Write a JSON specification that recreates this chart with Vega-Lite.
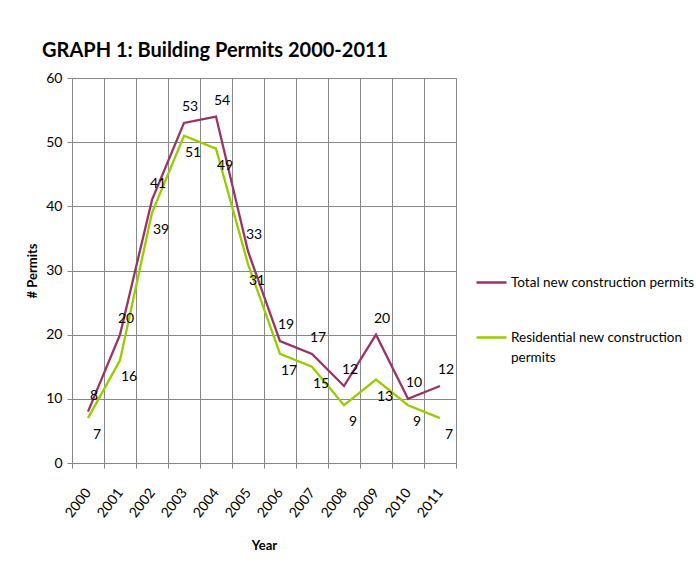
{
  "$schema": "https://vega.github.io/schema/vega-lite/v6.json",
  "autosize": "none",
  "width": 384,
  "height": 385,
  "padding": {"left": 72, "top": 78, "right": 240, "bottom": 108},
  "background": "white",
  "title": {
    "text": "GRAPH 1: Building Permits 2000-2011",
    "anchor": "start",
    "frame": "group",
    "dx": -30,
    "dy": 27,
    "offset": 21,
    "baseline": "alphabetic",
    "font": "Lato",
    "fontSize": 20,
    "fontWeight": "bold",
    "color": "#000000"
  },
  "config": {
    "font": "Lato",
    "view": {"stroke": "#888888", "strokeWidth": 1},
    "style": {"guide-label": {"lineHeight": 20}},
    "axis": {
      "domainColor": "#888888",
      "tickColor": "#888888",
      "gridColor": "#888888",
      "gridOpacity": 1,
      "gridWidth": 1,
      "labelFontSize": 14,
      "labelColor": "#000000",
      "titleColor": "#000000",
      "titleFontWeight": "bold",
      "titleFontSize": 13,
      "labelFont": "Lato",
      "titleFont": "Lato"
    },
    "legend": {
      "labelFont": "Lato",
      "labelFontSize": 13.5,
      "labelColor": "#000000"
    }
  },
  "data": {
    "values": [
      {"year": "2000", "series": "Total new construction permits", "permits": 8},
      {"year": "2001", "series": "Total new construction permits", "permits": 20},
      {"year": "2002", "series": "Total new construction permits", "permits": 41},
      {"year": "2003", "series": "Total new construction permits", "permits": 53},
      {"year": "2004", "series": "Total new construction permits", "permits": 54},
      {"year": "2005", "series": "Total new construction permits", "permits": 33},
      {"year": "2006", "series": "Total new construction permits", "permits": 19},
      {"year": "2007", "series": "Total new construction permits", "permits": 17},
      {"year": "2008", "series": "Total new construction permits", "permits": 12},
      {"year": "2009", "series": "Total new construction permits", "permits": 20},
      {"year": "2010", "series": "Total new construction permits", "permits": 10},
      {"year": "2011", "series": "Total new construction permits", "permits": 12},
      {"year": "2000", "series": "Residential new construction permits", "permits": 7},
      {"year": "2001", "series": "Residential new construction permits", "permits": 16},
      {"year": "2002", "series": "Residential new construction permits", "permits": 39},
      {"year": "2003", "series": "Residential new construction permits", "permits": 51},
      {"year": "2004", "series": "Residential new construction permits", "permits": 49},
      {"year": "2005", "series": "Residential new construction permits", "permits": 31},
      {"year": "2006", "series": "Residential new construction permits", "permits": 17},
      {"year": "2007", "series": "Residential new construction permits", "permits": 15},
      {"year": "2008", "series": "Residential new construction permits", "permits": 9},
      {"year": "2009", "series": "Residential new construction permits", "permits": 13},
      {"year": "2010", "series": "Residential new construction permits", "permits": 9},
      {"year": "2011", "series": "Residential new construction permits", "permits": 7}
    ]
  },
  "encoding": {
    "x": {
      "field": "year",
      "type": "ordinal",
      "bandPosition": 0.5,
      "scale": {"type": "band", "paddingInner": 0, "paddingOuter": 0},
      "axis": {
        "title": "Year",
        "tickBand": "extent",
        "grid": true,
        "labelAngle": -52,
        "labelAlign": "right",
        "labelBaseline": "middle",
        "labelPadding": 22,
        "tickSize": 5,
        "titlePadding": 20
      }
    },
    "y": {
      "field": "permits",
      "type": "quantitative",
      "scale": {"domain": [0, 60], "nice": false},
      "axis": {
        "title": "# Permits",
        "titleFontSize": 13,
        "values": [0, 10, 20, 30, 40, 50, 60],
        "tickSize": 5,
        "labelPadding": 5,
        "titlePadding": 6,
        "grid": true
      }
    }
  },
  "layer": [
    {
      "mark": {"type": "line", "strokeWidth": 2.3},
      "encoding": {
        "color": {
          "field": "series",
          "type": "nominal",
          "scale": {
            "domain": ["Total new construction permits", "Residential new construction permits"],
            "range": ["#993366", "#99CC00"]
          },
          "legend": {
            "title": null,
            "orient": "none",
            "legendX": 403,
            "legendY": 188,
            "symbolType": "stroke",
            "symbolSize": 900,
            "symbolStrokeWidth": 2.5,
            "rowPadding": 32,
            "labelOffset": 3,
            "labelLimit": 300,
            "labelExpr": "datum.label == 'Residential new construction permits' ? ['Residential new construction', 'permits'] : datum.label"
          }
        }
      }
    },
    {
      "transform": [{"filter": "datum.series == 'Total new construction permits'"}],
      "mark": {"type": "text", "dx": 6, "dy": -16, "fontSize": 14, "color": "#000000"},
      "encoding": {"text": {"field": "permits", "type": "quantitative"}}
    },
    {
      "transform": [{"filter": "datum.series == 'Residential new construction permits'"}],
      "mark": {"type": "text", "dx": 9, "dy": 17, "fontSize": 14, "color": "#000000"},
      "encoding": {"text": {"field": "permits", "type": "quantitative"}}
    }
  ]
}
